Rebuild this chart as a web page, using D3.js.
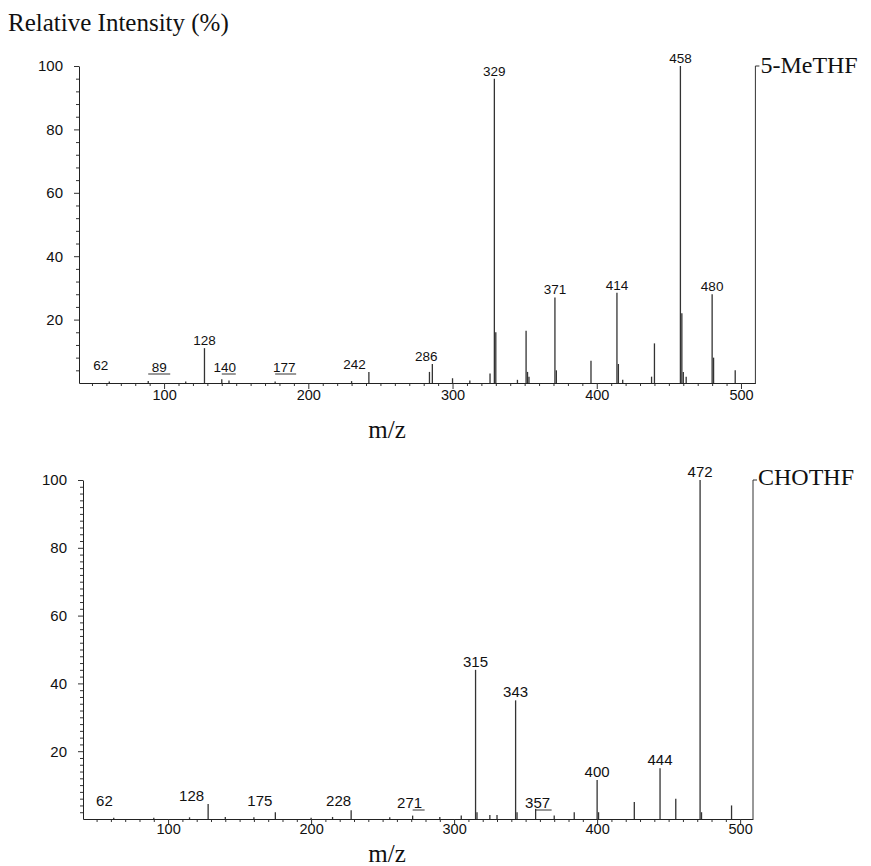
<!DOCTYPE html>
<html>
<head>
<meta charset="utf-8">
<script src="https://cdn.jsdelivr.net/npm/d3@7"></script>
<style>
    body { margin: 0; background: #fff; }
    .tick text { font-family: "Liberation Sans", Arial, sans-serif; fill: #111; }
    .peak-label { font-family: "Liberation Sans", Arial, sans-serif; fill: #111; }
    .serif { font-family: "Liberation Serif", "Times New Roman", serif; fill: #111; }
</style>
</head>
<body>
<div id="chart"></div>
<script>

// 5-MeTHF spectrum (m/z, relative intensity %)
var topMz = [62, 89, 115, 128, 140, 145, 177, 230, 242, 284, 286, 300, 312, 326, 329, 330,
             345, 351, 352, 353, 371, 372, 396, 414, 415, 418, 438, 440, 458, 459, 460, 462,
             480, 481, 496];
var topIntensity = [0.5, 0.6, 0.5, 11, 1.2, 0.8, 0.5, 0.6, 3.5, 3.5, 6, 1.5, 0.8, 3, 96, 16,
                    1, 16.5, 3.5, 2, 27, 4, 7, 28.5, 6, 1, 2, 12.5, 100, 22, 3.5, 2,
                    28, 8, 4];
var topLabels = [62, 89, 128, 140, 177, 242, 286, 329, 371, 414, 458, 480];

// CHOTHF spectrum
var botMz = [62, 90, 115, 128, 140, 160, 175, 200, 215, 228, 255, 271, 290, 305, 315, 316,
             325, 330, 343, 344, 357, 370, 384, 400, 401, 426, 444, 455, 472, 473, 494];
var botIntensity = [0.4, 0.4, 0.5, 4.4, 0.6, 0.5, 2, 0.4, 0.6, 2.6, 0.5, 1, 0.6, 1, 44, 2,
                    1.2, 1.2, 35, 2, 3, 1, 2, 11.5, 2, 5, 15, 6, 100, 2, 4];
var botLabels = [62, 128, 175, 228, 271, 315, 343, 357, 400, 444, 472];

// axis ticks
var xTicks = [100, 200, 300, 400, 500];
var yTicks = [20, 40, 60, 80, 100];


var svg = d3.select("#chart")
    .append("svg")
    .attr("width", 871)
    .attr("height", 866);

svg.append("rect").attr("width", 871).attr("height", 866).attr("fill", "#fff");

// axis title
svg.append("text")
    .attr("class", "serif")
    .attr("x", 8)
    .attr("y", 31)
    .attr("font-size", "25px")
    .text("Relative Intensity (%)");


// draw one spectrum panel
function drawSpectrum(p) {
    var x = d3.scaleLinear().domain(p.xDomain).range(p.xRange);
    var y = d3.scaleLinear().domain([0, 100]).range(p.yRange);
    var base = p.yRange[0];

    var g = svg.append("g");

    // minor ticks first
    var xMinor = d3.range(50, p.xDomain[1], 10).filter(function(v) { return v % 100 !== 0; });
    g.append("g")
        .attr("transform", "translate(0," + base + ")")
        .call(d3.axisBottom(x).tickValues(xMinor).tickSize(3).tickFormat("").tickSizeOuter(0))
        .call(function(a) { a.select(".domain").remove(); });

    g.append("g")
        .attr("transform", "translate(0," + base + ")")
        .call(d3.axisBottom(x).tickValues(xTicks).tickSize(p.xTickSize).tickPadding(p.xPad).tickSizeOuter(0))
        .call(function(a) { a.selectAll("text").attr("font-size", p.tickFont); });

    var yMinor = d3.range(0, 100, p.yMinorStep).filter(function(v) { return v % 20 !== 0; });
    g.append("g")
        .attr("transform", "translate(" + p.xRange[0] + ",0)")
        .call(d3.axisLeft(y).tickValues(yMinor).tickSize(3).tickFormat("").tickSizeOuter(0))
        .call(function(a) { a.select(".domain").remove(); });

    g.append("g")
        .attr("transform", "translate(" + p.xRange[0] + ",0)")
        .call(d3.axisLeft(y).tickValues(yTicks).tickSize(5).tickPadding(11).tickSizeOuter(0))
        .call(function(a) { a.selectAll("text").attr("font-size", "15px"); });

    g.selectAll(".domain").attr("stroke", "#222");
    g.selectAll(".tick line").attr("stroke", "#333");

    // peaks
    var peaks = p.mz.map(function(m, i) { return {mz: m, value: p.intensity[i]}; });
    g.selectAll("line.peak")
        .data(peaks)
        .enter()
        .append("line")
        .attr("class", "peak")
        .attr("x1", function(d) { return x(d.mz); })
        .attr("x2", function(d) { return x(d.mz); })
        .attr("y1", base)
        .attr("y2", function(d) { return y(d.value); })
        .attr("stroke", "#333")
        .attr("stroke-width", 1.3);

    // peak labels
    p.labels.forEach(function(m) {
        var i = p.mz.indexOf(m);
        var v = p.intensity[i];
        var px = x(m);
        var place = p.place[m] || ["middle", 0, 0];
        var ty = Math.min(y(v), base - 10) - 3;
        if (place[2] > 0) {
            var uy = base - 9;
            g.append("line")
                .attr("x1", px).attr("x2", px + place[2])
                .attr("y1", uy).attr("y2", uy)
                .attr("stroke", "#333");
            ty = uy - 2;
        }
        g.append("text")
            .attr("class", "peak-label")
            .attr("x", px + place[1])
            .attr("y", ty)
            .attr("text-anchor", place[0])
            .attr("font-size", p.labelFont)
            .text(m);
    });

    // right bracket with compound name
    var rx = p.xRange[1];
    g.append("path")
        .attr("d", "M" + rx + "," + base + "V" + y(100) + "h4")
        .attr("fill", "none")
        .attr("stroke", "#333");
    g.append("text")
        .attr("class", "serif")
        .attr("x", rx + 5)
        .attr("y", y(100) + p.nameDy)
        .attr("font-size", "24px")
        .text(p.name);

    // x title
    g.append("text")
        .attr("class", "serif")
        .attr("x", 387)
        .attr("y", p.xTitleY)
        .attr("text-anchor", "middle")
        .attr("font-size", "25px")
        .text("m/z");
}

drawSpectrum({
    mz: topMz, intensity: topIntensity, labels: topLabels,
    xDomain: [41, 510], xRange: [79, 755.4], yRange: [383, 66],
    xTickSize: 6, xPad: 1, yMinorStep: 4,
    tickFont: "14.5px", labelFont: "13.5px",
    place: {62: ["end", -1, 0], 89: ["middle", 11, 22], 140: ["middle", 3, 14],
            177: ["middle", 9, 21], 242: ["end", -3, 0], 286: ["middle", -6, 0]},
    name: "5-MeTHF", nameDy: 7, xTitleY: 438
});

drawSpectrum({
    mz: botMz, intensity: botIntensity, labels: botLabels,
    xDomain: [40.5, 509], xRange: [83, 753], yRange: [819, 480],
    xTickSize: 5, xPad: 0, yMinorStep: 2,
    tickFont: "14.5px", labelFont: "15px",
    place: {62: ["end", -1, 0], 128: ["end", -4, 0], 175: ["end", -3, 0], 228: ["end", 0, 0],
            271: ["middle", -3, 12], 357: ["middle", 2, 16]},
    name: "CHOTHF", nameDy: 5, xTitleY: 862
});

</script>
</body>
</html>
